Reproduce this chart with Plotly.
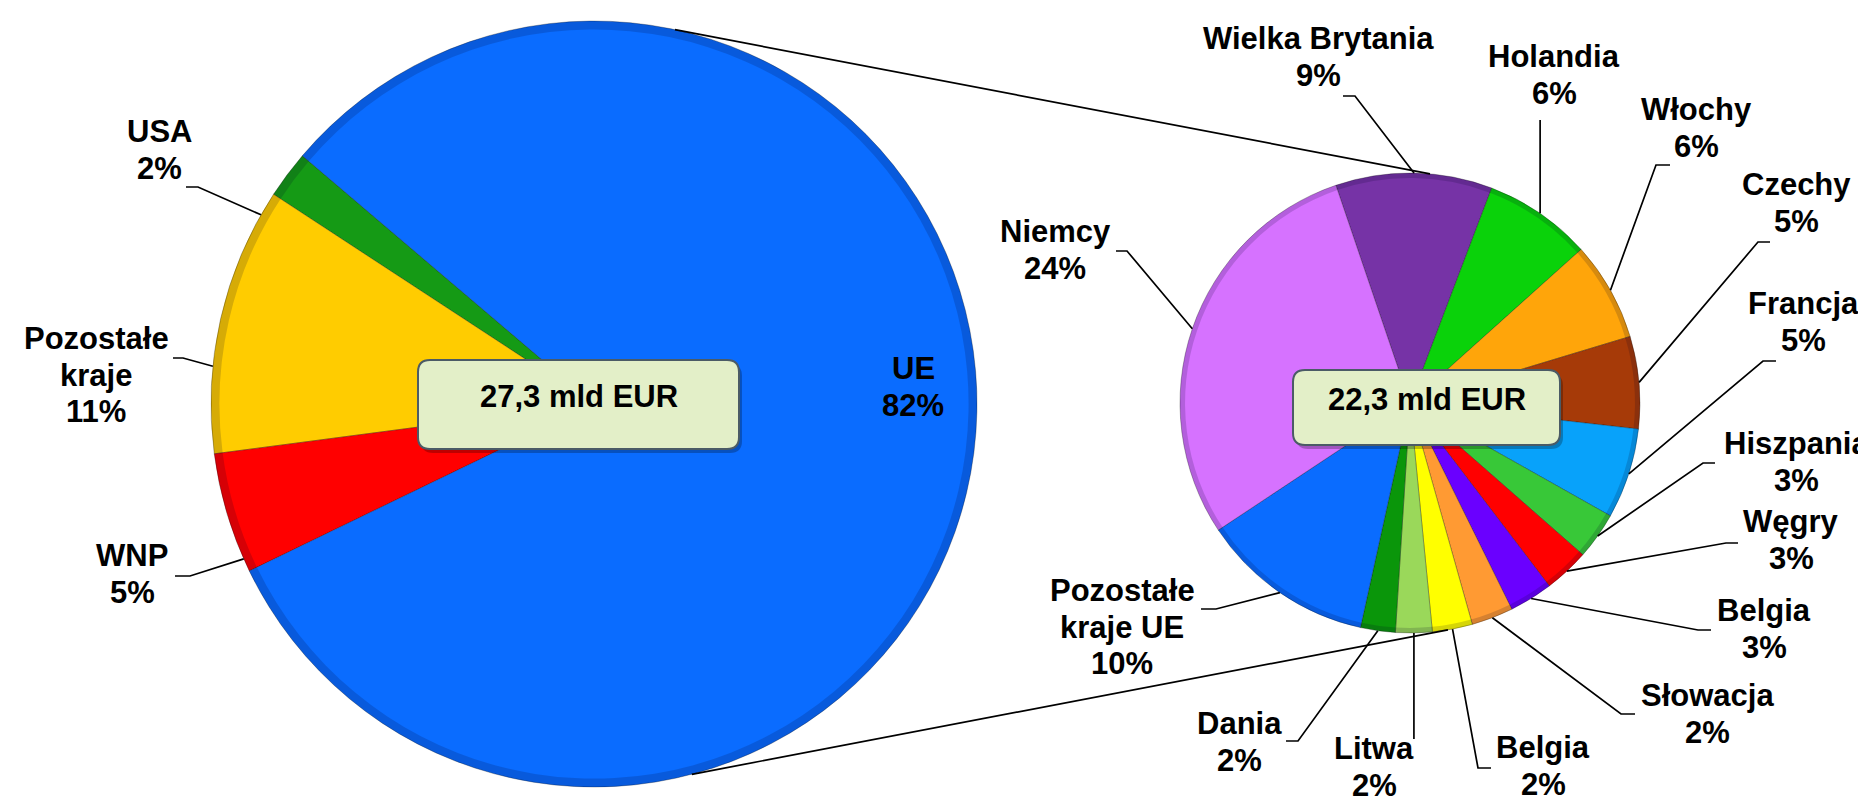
import math
import plotly.graph_objects as go

W, H = 1866, 802

# ---------------- data ----------------
world_labels = ["USA", "Pozostałe<br>kraje", "WNP", "UE"]
world_values = [2.0, 11.3, 5.1, 81.6]
world_pct = ["2%", "11%", "5%", "82%"]
world_colors = ["#159A15", "#FFCC00", "#FF0000", "#0A6CFF"]

eu_labels = ["Wielka Brytania", "Holandia", "Włochy", "Czechy", "Francja",
             "Hiszpania", "Węgry", "Belgia", "Słowacja", "Belgia", "Litwa",
             "Dania", "Pozostałe<br>kraje UE", "Niemcy"]
eu_values = [9.0, 6.2, 5.7, 5.3, 5.2, 2.7, 2.6, 2.5, 2.4, 2.3, 2.1, 2.0, 10.0, 23.8]
eu_pct = ["9%", "6%", "6%", "5%", "5%", "3%", "3%", "3%", "2%", "2%", "2%",
          "2%", "10%", "24%"]
eu_colors = ["#7633A6", "#0AD20A", "#FFA50A", "#A63A08", "#08A2FA", "#38C838",
             "#FF0000", "#6A00FF", "#FF9A33", "#FFFF00", "#9AD85A", "#0A960A",
             "#0A6CFF", "#D672FF"]

totals = ["27,3 mld EUR", "22,3 mld EUR"]

# ---------------- layout geometry (pixels) ----------------
L_CX, L_CY, L_R, L_START = 586, 396, 383, 146.8   # counter-clockwise
R_CX, R_CY, R_R, R_START = 1402, 395, 230, 108.8  # clockwise

FONT = "Liberation Sans, Arial, sans-serif"
FS = 31
LINE_STEP = 36.5
BASE_SHIFT = 0.3465 * FS + 8.5   # baseline -> middle of text box (calibrated)


def px(x):
    return x / W


def py(y):
    return 1 - y / H


def domain(cx, cy, r):
    return dict(x=[(cx - r) / W, (cx + r) / W], y=[1 - (cy + r) / H, 1 - (cy - r) / H])


def mid_angles(values, start, ccw):
    tot = sum(values)
    out, cum = [], 0.0
    for v in values:
        m = (cum + v / 2) / tot * 360
        out.append(start + m if ccw else start - m)
        cum += v
    return out


def edge(cx, cy, r, ang):
    a = math.radians(ang)
    return (cx + r * math.cos(a), cy - r * math.sin(a))


fig = go.Figure()
pies = [
    (world_labels, world_values, world_colors, "counterclockwise", L_START, (L_CX, L_CY, L_R)),
    (eu_labels, eu_values, eu_colors, "clockwise", R_START, (R_CX, R_CY, R_R)),
]
for labs, vals, cols, direc, start, (cx, cy, r) in pies:
    names = [f"{l.replace('<br>', ' ')} ({i + 1})" for i, l in enumerate(labs)]
    fig.add_trace(go.Pie(
        labels=names, values=vals,
        marker=dict(colors=cols, line=dict(color="rgba(0,0,0,0.28)", width=1)),
        sort=False, direction=direc, rotation=90 - start,
        textinfo="none", domain=domain(cx, cy, r), showlegend=False,
        hoverinfo="label+value"))
    # subtle darker rim imitating the bevelled edge
    fig.add_trace(go.Pie(
        labels=names, values=vals, hole=0.978,
        marker=dict(colors=["rgba(0,0,40,0.16)"] * len(vals), line=dict(width=0)),
        sort=False, direction=direc, rotation=90 - start,
        textinfo="none", domain=domain(cx, cy, r), showlegend=False,
        hoverinfo="skip"))

# label positions: (center x, first baseline y) and leader paths (elbow, text end)
world_pos = [(151, 143), (88, 350), (124, 567), (905, 380)]
world_lead = [[(190, 179), (178, 179)], [(175, 350), (165, 350)],
              [(182, 568), (167, 568)], None]
eu_pos = [(1310, 50), (1546, 68), (1688, 121), (1788, 196), (1795, 315),
          (1788, 455), (1783, 533), (1756, 622), (1699, 707), (1535, 759),
          (1366, 760), (1231, 735), (1114, 602), (1047, 243)]
eu_lead = [[(1347, 88), (1335, 88)], [("x", 112)], [(1648, 157), (1662, 157)],
           [(1750, 234), (1762, 234)], [(1755, 353), (1768, 353)],
           [(1695, 455), (1707, 455)], [(1718, 535), (1730, 535)],
           [(1690, 622), (1703, 622)], [(1613, 706), (1627, 706)],
           [(1470, 760), (1483, 760)], [("x", 731)], [(1290, 733), (1278, 733)],
           [(1208, 601), (1193, 601)], [(1119, 243), (1108, 243)]]

shapes, annotations = [], []


def text_line(x, baseline, txt):
    annotations.append(dict(
        x=px(x), y=py(baseline - BASE_SHIFT), xref="paper", yref="paper",
        text=txt, showarrow=False, align="center",
        xanchor="center", yanchor="middle", borderpad=0,
        font=dict(family=FONT, size=FS, color="black", weight="bold")))


def add_group(labels, pcts, values, pos, leads, cx, cy, r, start, ccw):
    mids = mid_angles(values, start, ccw)
    for lab, pc, p, ld, ang in zip(labels, pcts, pos, leads, mids):
        lines = lab.split("<br>") + [pc]
        for k, ln in enumerate(lines):
            text_line(p[0], p[1] + k * LINE_STEP, ln)
        if ld is None:
            continue
        ex, ey = edge(cx, cy, r, ang)
        pts = [(ex, ey)] + [((ex if q[0] == "x" else q[0]), q[1]) for q in ld]
        path = "M " + " L ".join(f"{px(a):.5f},{py(b):.5f}" for a, b in pts)
        shapes.append(dict(type="path", path=path, xref="paper", yref="paper",
                           line=dict(color="black", width=1.7)))


add_group(world_labels, world_pct, world_values, world_pos, world_lead,
          L_CX, L_CY, L_R, L_START, True)
add_group(eu_labels, eu_pct, eu_values, eu_pos, eu_lead,
          R_CX, R_CY, R_R, R_START, False)

# connector lines between the pies
for la, ra in [(77.8, 85.0), (-75.2, -80.5)]:
    x0, y0 = edge(L_CX, L_CY, L_R, la)
    x1, y1 = edge(R_CX, R_CY, R_R, ra)
    shapes.append(dict(type="line", x0=px(x0), y0=py(y0), x1=px(x1), y1=py(y1),
                       xref="paper", yref="paper",
                       line=dict(color="black", width=1.7)))


def rrect(x0, y0, x1, y1, r):
    P = lambda a, b: f"{px(a):.5f},{py(b):.5f}"
    return (f"M {P(x0 + r, y0)} L {P(x1 - r, y0)} Q {P(x1, y0)} {P(x1, y0 + r)} "
            f"L {P(x1, y1 - r)} Q {P(x1, y1)} {P(x1 - r, y1)} "
            f"L {P(x0 + r, y1)} Q {P(x0, y1)} {P(x0, y1 - r)} "
            f"L {P(x0, y0 + r)} Q {P(x0, y0)} {P(x0 + r, y0)} Z")


boxes = [(410, 352, 731, 441), (1285, 362, 1552, 437)]
for (x0, y0, x1, y1), t in zip(boxes, totals):
    shapes.append(dict(type="path", path=rrect(x0 + 3, y0 + 4, x1 + 3, y1 + 4, 12),
                       xref="paper", yref="paper", fillcolor="rgba(0,0,0,0.25)",
                       line=dict(width=0)))
    shapes.append(dict(type="path", path=rrect(x0, y0, x1, y1, 12),
                       xref="paper", yref="paper", fillcolor="#E3EFC8",
                       line=dict(color="#4B5B66", width=2)))
    text_line((x0 + x1) / 2, (y0 + y1) / 2 + 0.36 * FS, t)

fig.update_layout(
    width=W, height=H, margin=dict(l=0, r=0, t=0, b=0),
    paper_bgcolor="white", plot_bgcolor="white", showlegend=False,
    shapes=shapes, annotations=annotations)

fig.write_html("out.html")
